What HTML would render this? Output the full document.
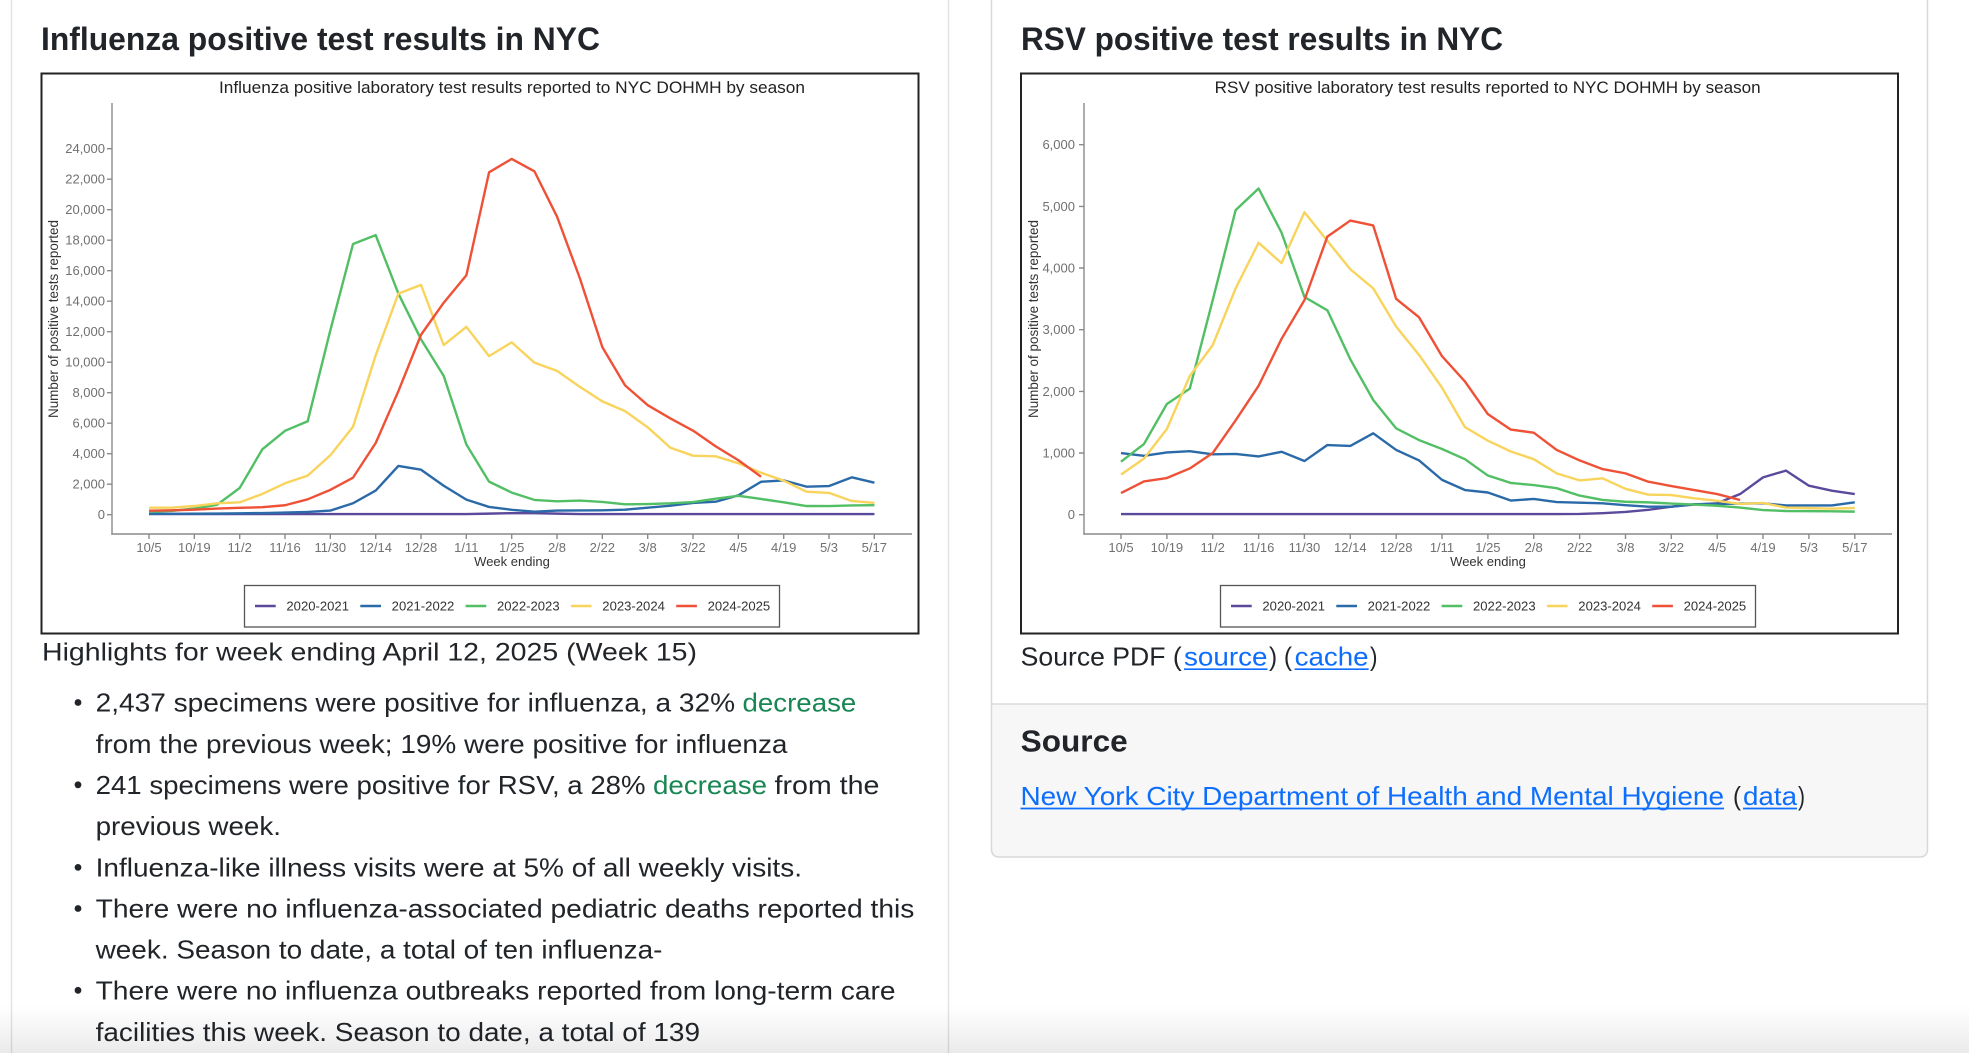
<!DOCTYPE html>
<html><head><meta charset="utf-8"><title>Influenza and RSV positive test results in NYC</title>
<style>html,body{margin:0;padding:0;background:#fff;width:1969px;height:1053px;overflow:hidden}svg{display:block}</style></head>
<body>
<svg width="1969" height="1053" viewBox="0 0 1969 1053" xmlns="http://www.w3.org/2000/svg" font-family="'Liberation Sans', Arial, sans-serif">
<defs>
<linearGradient id="bg" x1="0" y1="0" x2="0" y2="1"><stop offset="0" stop-color="#000" stop-opacity="0"/><stop offset="1" stop-color="#000" stop-opacity="0.08"/></linearGradient>
</defs>
<rect width="1969" height="1053" fill="#fff"/>

<!-- page structure -->
<line x1="11.5" y1="0" x2="11.5" y2="1053" stroke="#e3e3e3" stroke-width="1.5"/>
<line x1="948.5" y1="0" x2="948.5" y2="1053" stroke="#e3e3e3" stroke-width="1.5"/>
<path d="M992.2,704 H1926.8 V849 Q1926.8,856.3 1919.5,856.3 H999.5 Q992.2,856.3 992.2,849 Z" fill="#f7f7f7"/>
<line x1="992" y1="704" x2="1927" y2="704" stroke="#dcdcdc" stroke-width="1.5"/>
<path d="M991.5,-5 V849 Q991.5,857 999.5,857 H1919.5 Q1927.5,857 1927.5,849 V-5" fill="none" stroke="#d8d8d8" stroke-width="1.5"/>

<!-- titles -->
<text x="41" y="50" font-size="32" font-weight="600" fill="#212529" textLength="559" lengthAdjust="spacingAndGlyphs">Influenza positive test results in NYC</text>
<text x="1021" y="50" font-size="32" font-weight="600" fill="#212529" textLength="482" lengthAdjust="spacingAndGlyphs">RSV positive test results in NYC</text>

<!-- ============ FLU CHART ============ -->
<rect x="41.5" y="73.5" width="877" height="560" fill="#fff" stroke="#222" stroke-width="2"/>
<text x="512" y="93" text-anchor="middle" font-size="16.5" fill="#222" textLength="586" lengthAdjust="spacingAndGlyphs">Influenza positive laboratory test results reported to NYC DOHMH by season</text>
<g stroke="#8a8a8a" stroke-width="1.4" fill="none">
<line x1="112" y1="103" x2="112" y2="534.7"/>
<line x1="111.3" y1="534" x2="912" y2="534"/>
<path d="M107,514.7H112M107,484.2H112M107,453.7H112M107,423.2H112M107,392.7H112M107,362.2H112M107,331.7H112M107,301.2H112M107,270.7H112M107,240.2H112M107,209.7H112M107,179.2H112M107,148.7H112"/>
<path d="M149,534V539M194.3,534V539M239.7,534V539M285,534V539M330.3,534V539M375.7,534V539M421,534V539M466.3,534V539M511.7,534V539M557,534V539M602.3,534V539M647.7,534V539M693,534V539M738.3,534V539M783.7,534V539M829,534V539M874.3,534V539"/>
</g>
<g font-size="13" fill="#707070" text-anchor="end">
<text x="105" y="519.2">0</text>
<text x="105" y="488.7">2,000</text>
<text x="105" y="458.2">4,000</text>
<text x="105" y="427.7">6,000</text>
<text x="105" y="397.2">8,000</text>
<text x="105" y="366.7">10,000</text>
<text x="105" y="336.2">12,000</text>
<text x="105" y="305.7">14,000</text>
<text x="105" y="275.2">16,000</text>
<text x="105" y="244.7">18,000</text>
<text x="105" y="214.2">20,000</text>
<text x="105" y="183.7">22,000</text>
<text x="105" y="153.2">24,000</text>
</g>
<g font-size="13" fill="#707070" text-anchor="middle">
<text x="149" y="552">10/5</text><text x="194.3" y="552">10/19</text><text x="239.7" y="552">11/2</text><text x="285" y="552">11/16</text><text x="330.3" y="552">11/30</text><text x="375.7" y="552">12/14</text><text x="421" y="552">12/28</text><text x="466.3" y="552">1/11</text><text x="511.7" y="552">1/25</text><text x="557" y="552">2/8</text><text x="602.3" y="552">2/22</text><text x="647.7" y="552">3/8</text><text x="693" y="552">3/22</text><text x="738.3" y="552">4/5</text><text x="783.7" y="552">4/19</text><text x="829" y="552">5/3</text><text x="874.3" y="552">5/17</text>
</g>
<text x="512" y="566" text-anchor="middle" font-size="13" fill="#333">Week ending</text>
<text transform="translate(58 319) rotate(-90)" text-anchor="middle" font-size="14" fill="#333" textLength="198" lengthAdjust="spacingAndGlyphs">Number of positive tests reported</text>

<g transform="translate(149 514.7) scale(22.67 -0.01525)" fill="none" stroke-width="2.4" stroke-linejoin="round" stroke-linecap="butt">
<polyline vector-effect="non-scaling-stroke" stroke="#5b4a9b" points="0,40 1,40 2,40 3,40 4,40 5,40 6,40 7,40 8,40 9,40 10,40 11,40 12,40 13,40 14,40 15,70 16,100 17,100 18,70 19,40 20,40 21,40 22,40 23,40 24,40 25,40 26,40 27,40 28,40 29,40 30,40 31,40 32,40"/>
<polyline vector-effect="non-scaling-stroke" stroke="#2b6aa8" points="0,60 1,60 2,65 3,70 4,90 5,110 6,140 7,180 8,270 9,750 10,1580 11,3200 12,2950 13,1900 14,990 15,510 16,320 17,200 18,270 19,280 20,290 21,330 22,460 23,590 24,770 25,850 26,1270 27,2160 28,2250 29,1840 30,1880 31,2450 32,2100"/>
<polyline vector-effect="non-scaling-stroke" stroke="#52bf65" points="0,200 1,250 2,400 3,650 4,1750 5,4290 6,5500 7,6130 8,12100 9,17750 10,18330 11,14500 12,11500 13,9100 14,4600 15,2170 16,1450 17,970 18,880 19,930 20,840 21,680 22,700 23,745 24,830 25,1050 26,1240 27,1030 28,810 29,570 30,565 31,605 32,625"/>
<polyline vector-effect="non-scaling-stroke" stroke="#f8d45c" points="0,460 1,460 2,570 3,750 4,810 5,1360 6,2060 7,2560 8,3900 9,5770 10,10450 11,14500 12,15070 13,11120 14,12320 15,10400 16,11300 17,9970 18,9430 19,8390 20,7430 21,6790 22,5730 23,4390 24,3870 25,3830 26,3370 27,2750 28,2230 29,1510 30,1430 31,900 32,770"/>
<polyline vector-effect="non-scaling-stroke" stroke="#ef5137" points="0,260 1,290 2,330 3,400 4,450 5,490 6,620 7,1010 8,1630 9,2430 10,4700 11,8100 12,11800 13,13900 14,15700 15,22450 16,23330 17,22520 18,19540 19,15530 20,10980 21,8480 22,7180 23,6310 24,5510 25,4480 26,3570 27,2490"/>
</g>

<rect x="244.5" y="585.5" width="535" height="41.5" fill="#fff" stroke="#555" stroke-width="1.3"/>
<g stroke-width="2.6">
<line x1="255" y1="606" x2="275.7" y2="606" stroke="#5b4a9b"/>
<line x1="360.3" y1="606" x2="381" y2="606" stroke="#2b6aa8"/>
<line x1="465.6" y1="606" x2="486.3" y2="606" stroke="#52bf65"/>
<line x1="570.9" y1="606" x2="591.6" y2="606" stroke="#f8d45c"/>
<line x1="676.2" y1="606" x2="696.9" y2="606" stroke="#ef5137"/>
</g>
<g font-size="13" fill="#333">
<text x="286.4" y="610.5" textLength="62.6" lengthAdjust="spacingAndGlyphs">2020-2021</text>
<text x="391.7" y="610.5" textLength="62.6" lengthAdjust="spacingAndGlyphs">2021-2022</text>
<text x="497" y="610.5" textLength="62.6" lengthAdjust="spacingAndGlyphs">2022-2023</text>
<text x="602.3" y="610.5" textLength="62.6" lengthAdjust="spacingAndGlyphs">2023-2024</text>
<text x="707.6" y="610.5" textLength="62.6" lengthAdjust="spacingAndGlyphs">2024-2025</text>
</g>

<!-- ============ RSV CHART ============ -->
<rect x="1021" y="73.5" width="877" height="560" fill="#fff" stroke="#222" stroke-width="2"/>
<text x="1487.7" y="93" text-anchor="middle" font-size="16.5" fill="#222" textLength="546" lengthAdjust="spacingAndGlyphs">RSV positive laboratory test results reported to NYC DOHMH by season</text>
<g stroke="#8a8a8a" stroke-width="1.4" fill="none">
<line x1="1084" y1="103" x2="1084" y2="534.7"/>
<line x1="1083.3" y1="534" x2="1892" y2="534"/>
<path d="M1079,514.7H1084M1079,453H1084M1079,391.4H1084M1079,329.7H1084M1079,268H1084M1079,206.4H1084M1079,144.7H1084"/>
<path d="M1121,534V539M1166.9,534V539M1212.7,534V539M1258.6,534V539M1304.4,534V539M1350.3,534V539M1396.2,534V539M1442,534V539M1487.9,534V539M1533.7,534V539M1579.6,534V539M1625.5,534V539M1671.3,534V539M1717.2,534V539M1763,534V539M1808.9,534V539M1854.8,534V539"/>
</g>
<g font-size="13" fill="#707070" text-anchor="end">
<text x="1075" y="519.2">0</text>
<text x="1075" y="457.5">1,000</text>
<text x="1075" y="395.9">2,000</text>
<text x="1075" y="334.2">3,000</text>
<text x="1075" y="272.5">4,000</text>
<text x="1075" y="210.9">5,000</text>
<text x="1075" y="149.2">6,000</text>
</g>
<g font-size="13" fill="#707070" text-anchor="middle">
<text x="1121" y="552">10/5</text><text x="1166.9" y="552">10/19</text><text x="1212.7" y="552">11/2</text><text x="1258.6" y="552">11/16</text><text x="1304.4" y="552">11/30</text><text x="1350.3" y="552">12/14</text><text x="1396.2" y="552">12/28</text><text x="1442" y="552">1/11</text><text x="1487.9" y="552">1/25</text><text x="1533.7" y="552">2/8</text><text x="1579.6" y="552">2/22</text><text x="1625.5" y="552">3/8</text><text x="1671.3" y="552">3/22</text><text x="1717.2" y="552">4/5</text><text x="1763" y="552">4/19</text><text x="1808.9" y="552">5/3</text><text x="1854.8" y="552">5/17</text>
</g>
<text x="1488" y="566" text-anchor="middle" font-size="13" fill="#333">Week ending</text>
<text transform="translate(1038 319) rotate(-90)" text-anchor="middle" font-size="14" fill="#333" textLength="198" lengthAdjust="spacingAndGlyphs">Number of positive tests reported</text>

<g transform="translate(1121 514.7) scale(22.93 -0.061667)" fill="none" stroke-width="2.4" stroke-linejoin="round" stroke-linecap="butt">
<polyline vector-effect="non-scaling-stroke" stroke="#5b4a9b" points="0,10 1,10 2,10 3,10 4,10 5,10 6,10 7,10 8,10 9,10 10,10 11,10 12,10 13,10 14,10 15,10 16,10 17,10 18,10 19,10 20,12 21,25 22,45 23,80 24,130 25,165 26,185 27,335 28,605 29,715 30,470 31,390 32,335"/>
<polyline vector-effect="non-scaling-stroke" stroke="#2b6aa8" points="0,1000 1,955 2,1010 3,1030 4,980 5,985 6,945 7,1020 8,870 9,1130 10,1115 11,1320 12,1050 13,880 14,565 15,400 16,360 17,230 18,255 19,205 20,195 21,185 22,155 23,130 24,130 25,170 26,175 27,180 28,185 29,150 30,150 31,150 32,200"/>
<polyline vector-effect="non-scaling-stroke" stroke="#52bf65" points="0,860 1,1145 2,1795 3,2045 4,3480 5,4940 6,5290 7,4575 8,3530 9,3315 10,2520 11,1860 12,1400 13,1210 14,1065 15,900 16,635 17,515 18,480 19,430 20,310 21,240 22,210 23,200 24,180 25,165 26,145 27,115 28,75 29,60 30,58 31,55 32,50"/>
<polyline vector-effect="non-scaling-stroke" stroke="#f8d45c" points="0,650 1,910 2,1390 3,2250 4,2750 5,3670 6,4410 7,4080 8,4905 9,4440 10,3980 11,3670 12,3050 13,2590 14,2060 15,1420 16,1200 17,1025 18,900 19,670 20,556 21,590 22,420 23,325 24,318 25,265 26,225 27,175 28,190 29,115 30,108 31,97 32,110"/>
<polyline vector-effect="non-scaling-stroke" stroke="#ef5137" points="0,350 1,540 2,595 3,750 4,1000 5,1530 6,2090 7,2850 8,3480 9,4510 10,4770 11,4690 12,3500 13,3200 14,2570 15,2160 16,1630 17,1380 18,1330 19,1050 20,880 21,740 22,670 23,535 24,465 25,400 26,335 27,238"/>
</g>

<rect x="1220.5" y="585.5" width="535" height="41.5" fill="#fff" stroke="#555" stroke-width="1.3"/>
<g stroke-width="2.6">
<line x1="1231" y1="606" x2="1251.7" y2="606" stroke="#5b4a9b"/>
<line x1="1336.3" y1="606" x2="1357" y2="606" stroke="#2b6aa8"/>
<line x1="1441.6" y1="606" x2="1462.3" y2="606" stroke="#52bf65"/>
<line x1="1546.9" y1="606" x2="1567.6" y2="606" stroke="#f8d45c"/>
<line x1="1652.2" y1="606" x2="1672.9" y2="606" stroke="#ef5137"/>
</g>
<g font-size="13" fill="#333">
<text x="1262.4" y="610.5" textLength="62.6" lengthAdjust="spacingAndGlyphs">2020-2021</text>
<text x="1367.7" y="610.5" textLength="62.6" lengthAdjust="spacingAndGlyphs">2021-2022</text>
<text x="1473" y="610.5" textLength="62.6" lengthAdjust="spacingAndGlyphs">2022-2023</text>
<text x="1578.3" y="610.5" textLength="62.6" lengthAdjust="spacingAndGlyphs">2023-2024</text>
<text x="1683.6" y="610.5" textLength="62.6" lengthAdjust="spacingAndGlyphs">2024-2025</text>
</g>

<!-- ============ LEFT TEXT ============ -->
<text x="42" y="660.7" font-size="25" font-weight="500" fill="#212529" textLength="655" lengthAdjust="spacingAndGlyphs">Highlights for week ending April 12, 2025 (Week 15)</text>
<g fill="#212529">
<circle cx="78" cy="702.5" r="3.4"/>
<circle cx="78" cy="784.8" r="3.4"/>
<circle cx="78" cy="867.4" r="3.4"/>
<circle cx="78" cy="908.5" r="3.4"/>
<circle cx="78" cy="990.3" r="3.4"/>
</g>
<g font-size="26" fill="#212529">
<text x="95.6" y="711.7" textLength="639.5" lengthAdjust="spacingAndGlyphs">2,437 specimens were positive for influenza, a 32%</text>
<text x="742.5" y="711.7" fill="#198754" textLength="113.8" lengthAdjust="spacingAndGlyphs">decrease</text>
<text x="95.6" y="752.8" textLength="691.9" lengthAdjust="spacingAndGlyphs">from the previous week; 19% were positive for influenza</text>
<text x="95.6" y="794" textLength="550" lengthAdjust="spacingAndGlyphs">241 specimens were positive for RSV, a 28%</text>
<text x="653" y="794" fill="#198754" textLength="114" lengthAdjust="spacingAndGlyphs">decrease</text>
<text x="774.5" y="794" textLength="104.9" lengthAdjust="spacingAndGlyphs">from the</text>
<text x="95.6" y="835.2" textLength="185.4" lengthAdjust="spacingAndGlyphs">previous week.</text>
<text x="95.6" y="876.6" textLength="706.4" lengthAdjust="spacingAndGlyphs">Influenza-like illness visits were at 5% of all weekly visits.</text>
<text x="95.6" y="917.7" textLength="818.8" lengthAdjust="spacingAndGlyphs">There were no influenza-associated pediatric deaths reported this</text>
<text x="95.6" y="958.6" textLength="566.9" lengthAdjust="spacingAndGlyphs">week. Season to date, a total of ten influenza-</text>
<text x="95.6" y="999.5" textLength="800" lengthAdjust="spacingAndGlyphs">There were no influenza outbreaks reported from long-term care</text>
<text x="95.6" y="1041" textLength="604.4" lengthAdjust="spacingAndGlyphs">facilities this week. Season to date, a total of 139</text>
</g>

<!-- ============ RIGHT TEXT ============ -->
<g font-size="26" fill="#212529">
<text x="1020.7" y="665.7" textLength="161" lengthAdjust="spacingAndGlyphs">Source PDF (</text>
<text x="1184" y="665.7" fill="#0d6efd" textLength="83.5" lengthAdjust="spacingAndGlyphs">source</text>
<text x="1269" y="665.7" textLength="23" lengthAdjust="spacingAndGlyphs">) (</text>
<text x="1294.6" y="665.7" fill="#0d6efd" textLength="74" lengthAdjust="spacingAndGlyphs">cache</text>
<text x="1370" y="665.7" textLength="7.5" lengthAdjust="spacingAndGlyphs">)</text>
</g>
<g stroke="#0d6efd" stroke-width="1.7">
<line x1="1184" y1="669.2" x2="1267.5" y2="669.2"/>
<line x1="1294.6" y1="669.2" x2="1368.6" y2="669.2"/>
</g>
<text x="1020.7" y="751.7" font-size="31" font-weight="600" fill="#212529" textLength="107" lengthAdjust="spacingAndGlyphs">Source</text>
<g font-size="26">
<text x="1020.5" y="805" fill="#0d6efd" textLength="703.5" lengthAdjust="spacingAndGlyphs">New York City Department of Health and Mental Hygiene</text>
<text x="1733" y="805" fill="#212529" textLength="8" lengthAdjust="spacingAndGlyphs">(</text>
<text x="1743" y="805" fill="#0d6efd" textLength="54" lengthAdjust="spacingAndGlyphs">data</text>
<text x="1798" y="805" fill="#212529" textLength="7" lengthAdjust="spacingAndGlyphs">)</text>
</g>
<g stroke="#0d6efd" stroke-width="1.7">
<line x1="1020.5" y1="808.5" x2="1724" y2="808.5"/>
<line x1="1743" y1="808.5" x2="1797" y2="808.5"/>
</g>

<rect x="0" y="1005" width="1969" height="48" fill="url(#bg)"/>
</svg>
</body></html>
